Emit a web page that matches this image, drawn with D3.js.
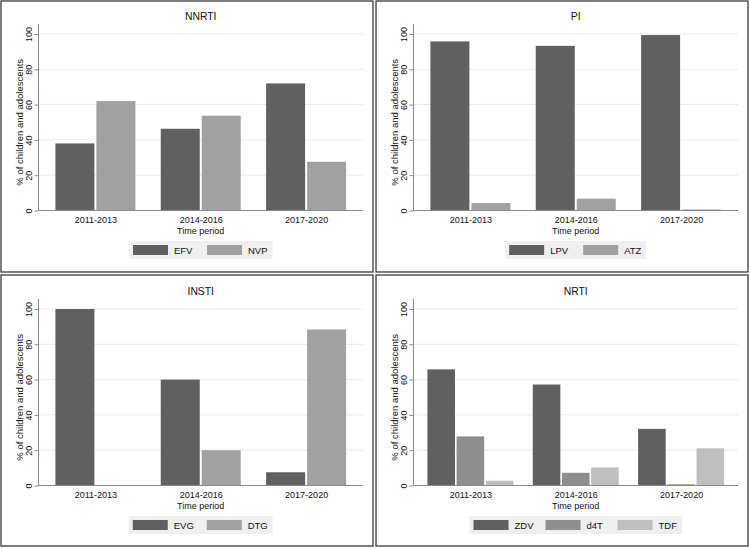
<!DOCTYPE html>
<html>
<head>
<meta charset="utf-8">
<script src="https://cdn.jsdelivr.net/npm/d3@7"></script>
<style>
  html, body { margin: 0; padding: 0; background: #fff; }
  svg { display: block; font-family: "Liberation Sans", Arial, Helvetica, sans-serif; }
</style>
</head>
<body>
<svg id="chart" width="750" height="548"></svg>
<script>
// ---- data ----
const categories = ["2011-2013", "2014-2016", "2017-2020"];
const yTicks = [0, 20, 40, 60, 80, 100];

const nnrtiKeys = ["EFV", "NVP"];
const nnrtiEFV = [38, 46.3, 72];
const nnrtiNVP = [62, 53.7, 27.6];

const piKeys = ["LPV", "ATZ"];
const piLPV = [95.8, 93.3, 99.4];
const piATZ = [4.2, 6.7, 0.6];

const instiKeys = ["EVG", "DTG"];
const instiEVG = [100, 60, 7.5];
const instiDTG = [0, 20, 88.4];

const nrtiKeys = ["ZDV", "d4T", "TDF"];
const nrtiZDV = [65.8, 57.2, 32.1];
const nrtiD4T = [27.8, 7.2, 0.7];
const nrtiTDF = [2.7, 10.2, 21.1];

const colDark = "#606060", colLight = "#a1a1a1", colMid = "#8e8e8e", colPale = "#bfbfbf";

const panels = [
  { title: "NNRTI", keys: nnrtiKeys, series: [nnrtiEFV, nnrtiNVP], colors: [colDark, colLight], ox: 0, oy: 0 },
  { title: "PI", keys: piKeys, series: [piLPV, piATZ], colors: [colDark, colLight], ox: 375, oy: 0 },
  { title: "INSTI", keys: instiKeys, series: [instiEVG, instiDTG], colors: [colDark, colLight], ox: 0, oy: 275 },
  { title: "NRTI", keys: nrtiKeys, series: [nrtiZDV, nrtiD4T, nrtiTDF], colors: [colDark, colMid, colPale], ox: 375, oy: 275 }
];

const svg = d3.select("#chart");
svg.append("rect").attr("width", 750).attr("height", 548).attr("fill", "#fff");

// font size calibration: measure text at 10px and scale to the width seen in the reference
function fitSize(str, target) {
  const t = svg.append("text").attr("font-size", 10).text(str);
  const w = t.node().getComputedTextLength();
  t.remove();
  return w > 0 ? 10 * target / w : 9;
}
const fsTick = fitSize("2011-2013", 42.5);
const fsTitle = fitSize("NNRTI", 31.5);
const fsYTitle = fitSize("% of children and adolescents", 127);
const fsXTitle = fitSize("Time period", 47.3);
const fsLeg = fitSize("NVP", 19.5);

// frames
const frames = [[1, 1], [376, 1], [1, 275], [376, 275]];
frames.forEach(([fx, fy]) => {
  svg.append("rect").attr("x", fx).attr("y", fy).attr("width", 372).attr("height", 271)
    .attr("fill", "#fff").attr("stroke", "#3a3a3a").attr("stroke-width", 1.3);
});

const plotL = 38.5, plotR = 363, axisTop = 24;
const y = d3.scaleLinear().domain([0, 100]).range([210.5, 34]);
const x = d3.scalePoint().domain(categories).range([plotL, plotR]).padding(0.54);
const txt = "#111";

panels.forEach(p => {
  const g = svg.append("g").attr("transform", `translate(${p.ox},${p.oy})`);
  const n = p.series.length;
  const bw = n === 2 ? 39 : 27.6;
  const gap = n === 2 ? 2 : 1.6;
  const groupW = n * bw + (n - 1) * gap;

  // gridlines
  g.append("g").selectAll("line").data(yTicks.slice(1)).join("line")
    .attr("x1", plotL).attr("x2", plotR)
    .attr("y1", d => y(d)).attr("y2", d => y(d))
    .attr("stroke", "#e2ecef").attr("stroke-width", 1);

  // bars
  p.series.forEach((vals, si) => {
    g.append("g").selectAll("rect").data(vals).join("rect")
      .attr("x", (d, i) => x(categories[i]) - groupW / 2 + si * (bw + gap))
      .attr("width", bw)
      .attr("y", d => y(d))
      .attr("height", d => y(0) - y(d))
      .attr("fill", p.colors[si]);
  });

  // y axis
  const yAxis = g.append("g").attr("transform", `translate(${plotL},0)`)
    .call(d3.axisLeft(y).tickValues(yTicks).tickSize(4).tickPadding(3).tickFormat(d3.format("d")));
  yAxis.select(".domain").remove();
  yAxis.append("line").attr("x1", 0).attr("x2", 0).attr("y1", axisTop).attr("y2", y(0))
    .attr("stroke", "#8a8a8a").attr("stroke-width", 1);
  yAxis.selectAll(".tick line").attr("stroke", "#8a8a8a");
  yAxis.selectAll(".tick text")
    .attr("x", null).attr("dy", null)
    .attr("transform", "translate(-6.5,0) rotate(-90)")
    .attr("text-anchor", "middle")
    .attr("font-size", fsTick).attr("fill", txt)
    .attr("font-family", "'Liberation Sans', Arial, sans-serif");

  // x axis
  const xAxis = g.append("g").attr("transform", `translate(0,${y(0)})`)
    .call(d3.axisBottom(x).tickSize(0).tickPadding(0));
  xAxis.select(".domain").remove();
  xAxis.append("line").attr("x1", plotL).attr("x2", plotR).attr("y1", 0).attr("y2", 0)
    .attr("stroke", "#8a8a8a").attr("stroke-width", 1);
  xAxis.selectAll(".tick text")
    .attr("y", 12.5).attr("dy", null)
    .attr("font-size", fsTick).attr("fill", txt)
    .attr("font-family", "'Liberation Sans', Arial, sans-serif");

  const cx = (plotL + plotR) / 2;
  // title
  g.append("text").attr("x", cx).attr("y", 20).attr("text-anchor", "middle")
    .attr("font-size", fsTitle).attr("fill", txt).text(p.title);
  // x title
  g.append("text").attr("x", cx).attr("y", 233.5).attr("text-anchor", "middle")
    .attr("font-size", fsXTitle).attr("fill", txt).text("Time period");
  // y title
  g.append("text").attr("transform", `translate(23,${(y(0) + y(100)) / 2}) rotate(-90)`)
    .attr("text-anchor", "middle").attr("font-size", fsYTitle).attr("fill", txt)
    .text("% of children and adolescents");

  // legend
  const leg = g.append("g");
  const sw = 35, step = n === 2 ? 74 : 72;
  const items = leg.selectAll("g").data(p.keys).join("g")
    .attr("transform", (d, i) => `translate(${i * step},0)`);
  items.append("rect").attr("x", 0).attr("y", 4).attr("width", sw).attr("height", 10)
    .attr("fill", (d, i) => p.colors[i]);
  const texts = items.append("text").attr("x", sw + 6).attr("y", 12.5)
    .attr("font-size", fsLeg).attr("fill", txt).text(d => d);
  const lastW = texts.nodes()[n - 1].getComputedTextLength();
  const contentW = (n - 1) * step + sw + 6 + lastW;
  const boxW = contentW + 9;
  const bx = cx - boxW / 2;
  leg.attr("transform", `translate(${bx + 4},241)`);
  leg.insert("rect", ":first-child").attr("x", -4).attr("y", 0).attr("width", boxW).attr("height", 18)
    .attr("fill", "#efefef");
});
</script>
</body>
</html>
